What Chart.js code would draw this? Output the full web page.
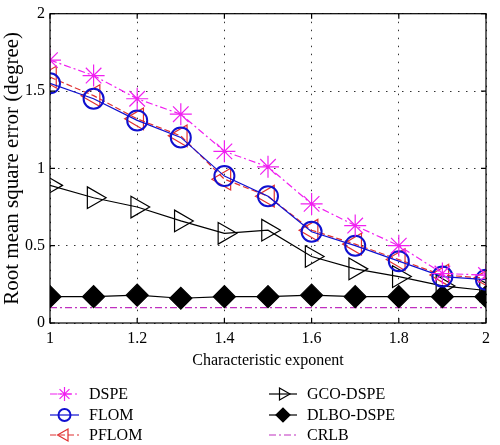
<!DOCTYPE html>
<html lang="en">
<head>
  <meta charset="utf-8" />
  <title>RMSE vs characteristic exponent</title>
  <script src="https://cdn.jsdelivr.net/npm/chart.js@4/dist/chart.umd.min.js"></script>
  <style>
    html, body { margin: 0; padding: 0; background: #fff; }
    #wrap { width: 500px; height: 445px; }
  </style>
</head>
<body>
  <div id="wrap"><canvas id="rmse"></canvas></div>

  <script>
    // data
    const exponents = [1, 1.1, 1.2, 1.3, 1.4, 1.5, 1.6, 1.7, 1.8, 1.9, 2];
    const dspe  = [1.70, 1.60, 1.45, 1.35, 1.11, 1.01, 0.77, 0.63, 0.50, 0.32, 0.31];
    const flom  = [1.55, 1.45, 1.31, 1.20, 0.95, 0.82, 0.59, 0.50, 0.40, 0.30, 0.28];
    const pflom = [1.59, 1.47, 1.32, 1.21, 0.93, 0.82, 0.60, 0.51, 0.41, 0.31, 0.29];
    const gco   = [0.89, 0.81, 0.75, 0.66, 0.58, 0.60, 0.43, 0.35, 0.30, 0.24, 0.21];
    const dlbo  = [0.17, 0.17, 0.18, 0.16, 0.17, 0.17, 0.18, 0.17, 0.17, 0.17, 0.17];
    const crlb  = [0.10, 0.10, 0.10, 0.10, 0.10, 0.10, 0.10, 0.10, 0.10, 0.10, 0.10];
    const xTicks = [1, 1.2, 1.4, 1.6, 1.8, 2];
    const yTicks = [0, 0.5, 1, 1.5, 2];

    const FONT = "'Liberation Serif', 'DejaVu Serif', serif";
    const pts = ys => ys.map((y, i) => ({ x: exponents[i], y }));
    const fmt = v => String(+Number(v).toFixed(2));

    // legend layout: [dataset index, column, row]
    const legendSlots = [[0, 0, 0], [1, 0, 1], [2, 0, 2], [3, 1, 0], [4, 1, 1], [5, 1, 2]];
    const legendCols = [{ x0: 50, x1: 79, tx: 89 }, { x0: 269, x1: 297, tx: 307 }];
    const legendRows = [394, 415, 435];

    const framePlugin = {
      id: "frame",
      afterDatasetsDraw(chart) {
        const { ctx, chartArea: a, scales } = chart;
        ctx.save();
        ctx.strokeStyle = "#000";
        ctx.lineWidth = 1.2;
        ctx.setLineDash([]);
        ctx.strokeRect(a.left, a.top, a.right - a.left, a.bottom - a.top);
        ctx.beginPath();
        xTicks.forEach(v => {
          const px = scales.x.getPixelForValue(v);
          ctx.moveTo(px, a.bottom); ctx.lineTo(px, a.bottom - 5);
          ctx.moveTo(px, a.top); ctx.lineTo(px, a.top + 5);
        });
        yTicks.forEach(v => {
          const py = scales.y.getPixelForValue(v);
          ctx.moveTo(a.left, py); ctx.lineTo(a.left + 5, py);
          ctx.moveTo(a.right, py); ctx.lineTo(a.right - 5, py);
        });
        ctx.stroke();
        ctx.restore();
      },
      afterDraw(chart) {
        const ctx = chart.ctx;
        ctx.save();
        legendSlots.forEach(([di, col, row]) => {
          const ds = chart.data.datasets[di];
          const c = legendCols[col];
          const y = legendRows[row];
          ctx.strokeStyle = ds.borderColor;
          ctx.lineWidth = 1.2;
          ctx.setLineDash(ds.borderDash || []);
          ctx.beginPath();
          ctx.moveTo(c.x0, y); ctx.lineTo(c.x1, y);
          ctx.stroke();
          ctx.setLineDash([]);
          if (ds.pointStyle && ds.pointRadius > 0) {
            ctx.strokeStyle = ds.pointBorderColor;
            ctx.fillStyle = ds.pointBackgroundColor;
            ctx.lineWidth = ds.pointBorderWidth;
            Chart.helpers.drawPoint(ctx, {
              pointStyle: ds.pointStyle,
              rotation: ds.pointRotation || 0,
              radius: ds.legendRadius,
              borderWidth: ds.pointBorderWidth
            }, (c.x0 + c.x1) / 2, y);
          }
          ctx.fillStyle = "#000";
          ctx.font = "16px " + FONT;
          ctx.textBaseline = "middle";
          ctx.fillText(ds.label, c.tx, y + 1);
        });
        ctx.restore();
      }
    };

    function series(label, data, color, style, extra) {
      return Object.assign({
        label,
        data: pts(data),
        borderColor: color,
        borderWidth: 1.2,
        pointStyle: style,
        pointBorderColor: color,
        pointBackgroundColor: "rgba(0,0,0,0)",
        pointBorderWidth: 1.2,
        pointRadius: 10,
        pointHoverRadius: 10,
        legendRadius: 6,
        tension: 0,
        fill: false
      }, extra || {});
    }

    const ctx = document.getElementById("rmse").getContext("2d");
    new Chart(ctx, {
      type: "line",
      data: {
        datasets: [
          series("DSPE", dspe, "#f020f0", "star", { borderDash: [7, 3, 2, 3], pointRadius: 11, pointHoverRadius: 11, legendRadius: 7 }),
          series("FLOM", flom, "#1010d0", "circle", { pointBorderWidth: 2 }),
          series("PFLOM", pflom, "#e03030", "triangle", { borderDash: [6, 3], pointRotation: -90, pointRadius: 12.5, pointHoverRadius: 12.5, legendRadius: 7 }),
          series("GCO-DSPE", gco, "#000000", "triangle", { pointRotation: 90, pointRadius: 12.5, pointHoverRadius: 12.5, legendRadius: 7 }),
          series("DLBO-DSPE", dlbo, "#000000", "rectRot", { pointBackgroundColor: "#000000", pointRadius: 11, pointHoverRadius: 11, legendRadius: 7 }),
          series("CRLB", crlb, "#c030c0", false, { borderDash: [7, 3, 2, 3], pointRadius: 0, pointHoverRadius: 0 })
        ]
      },
      options: {
        responsive: true,
        maintainAspectRatio: false,
        animation: false,
        layout: { padding: { left: 0, right: 14, top: 5, bottom: 75 } },
        plugins: {
          legend: { display: false },
          tooltip: { enabled: false }
        },
        scales: {
          x: {
            type: "linear",
            min: 1,
            max: 2,
            afterBuildTicks: s => { s.ticks = xTicks.map(v => ({ value: v })); },
            afterFit: s => { s.height = 47; s.paddingLeft = 0; s.paddingRight = 0; },
            grid: { color: "#333", lineWidth: 1, drawTicks: false },
            border: { display: false, dash: [1.5, 6.5] },
            ticks: { padding: 6, color: "#000", font: { family: FONT, size: 16 }, maxRotation: 0, callback: fmt },
            title: {
              display: true,
              text: "Characteristic exponent",
              color: "#000",
              font: { family: FONT, size: 16 },
              padding: { top: 4, bottom: 0 }
            }
          },
          y: {
            min: 0,
            max: 2,
            afterBuildTicks: s => { s.ticks = yTicks.map(v => ({ value: v })); },
            afterFit: s => { s.width = 50; s.paddingTop = 0; s.paddingBottom = 0; },
            grid: { color: "#333", lineWidth: 1, drawTicks: false },
            border: { display: false, dash: [1.5, 6.5] },
            ticks: { padding: 5, color: "#000", font: { family: FONT, size: 16 }, callback: fmt },
            title: {
              display: true,
              text: "Root mean square error (degree)",
              color: "#000",
              font: { family: FONT, size: 21 },
              padding: { top: 0, bottom: 0 }
            }
          }
        }
      },
      plugins: [framePlugin]
    });
  </script>
</body>
</html>
